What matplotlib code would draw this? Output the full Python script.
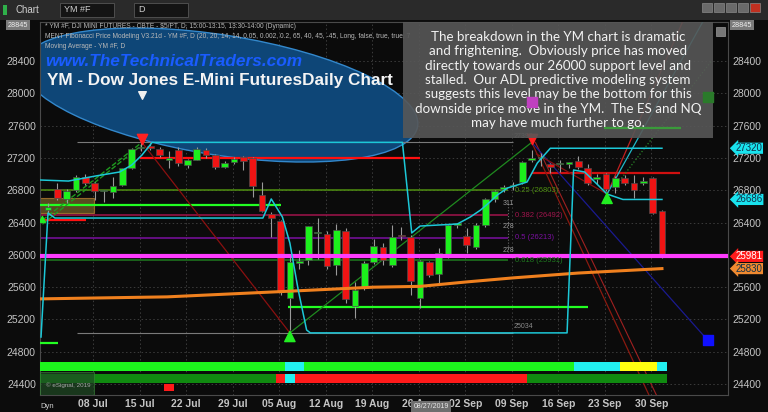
import numpy as np
import matplotlib.pyplot as plt
from matplotlib.patches import Rectangle, Ellipse
from matplotlib.transforms import Affine2D, ScaledTranslation, blended_transform_factory

plt.rcParams['font.family'] = ['Liberation Sans', 'DejaVu Sans']

# YM #F daily candles, 01 Jul .. 02 Oct 2019
opens = [26560, 26815, 26690, 26800, 26965, 26890, 26785, 26780, 26865, 27075,
         27320, 27345, 27310, 27180, 27300, 27110, 27175, 27300, 27235, 27090,
         27150, 27210, 27200, 26740, 26505, 26420, 25465, 25900, 25935, 26265,
         26260, 25875, 26295, 25365, 25590, 25910, 26097, 25875, 26245, 26220,
         25465, 25910, 25765, 25985, 26375, 26235, 26095, 26370, 26690, 26820,
         26855, 26900, 27180, 27195, 27125, 27120, 27130, 27160, 27075, 26945,
         27000, 26840, 26950, 26890, 26895, 26950, 26545]
highs = [26640, 26890, 26820, 26990, 27000, 26900, 26800, 26965, 27080, 27320,
         27400, 27390, 27330, 27280, 27330, 27190, 27330, 27320, 27250, 27160,
         27210, 27230, 27210, 26900, 26530, 26430, 25980, 26060, 26360, 26460,
         26300, 26380, 26330, 25660, 25930, 26200, 26150, 26370, 26350, 26240,
         25940, 25930, 26080, 26380, 26400, 26335, 26390, 26700, 26800, 26870,
         26900, 27160, 27300, 27260, 27140, 27170, 27150, 27230, 27130, 27000,
         27010, 26980, 26990, 26990, 26960, 26970, 26560]
lows = [26520, 26680, 26640, 26780, 26860, 26680, 26655, 26700, 26850, 27060,
        27280, 27300, 27210, 27080, 27100, 27080, 27170, 27200, 27060, 27070,
        27130, 27050, 26715, 26530, 26220, 25500, 25070, 25820, 25880, 25950,
        25820, 25750, 25400, 25220, 25560, 25890, 25880, 25850, 26190, 25505,
        25340, 25730, 25640, 25960, 26330, 26020, 26070, 26340, 26650, 26780,
        26800, 26880, 27150, 27100, 27010, 27030, 27080, 27060, 26870, 26880,
        26790, 26760, 26870, 26700, 26870, 26510, 25960]
closes = [26590, 26705, 26790, 26965, 26890, 26790, 26795, 26850, 27075, 27310,
          27335, 27320, 27235, 27200, 27140, 27175, 27310, 27235, 27090, 27140,
          27190, 27160, 26850, 26545, 26455, 25550, 25910, 25920, 26355, 26275,
          25860, 26310, 25455, 25565, 25900, 26110, 25937, 26220, 26230, 25680,
          25925, 25750, 26025, 26370, 26385, 26125, 26370, 26690, 26790, 26835,
          26870, 27150, 27195, 27205, 27090, 27130, 27140, 27090, 26890, 26955,
          26815, 26950, 26890, 26805, 26905, 26520, 25981]

date_labels = ['08 Jul', '15 Jul', '22 Jul', '29 Jul', '05 Aug', '12 Aug', '19 Aug',
               '26 Aug', '02 Sep', '09 Sep', '16 Sep', '23 Sep', '30 Sep']
date_pos = [4, 9, 14, 19, 24, 29, 34, 39, 44, 49, 54, 59, 64]
price_ticks = [24400, 24800, 25200, 25600, 26000, 26400, 26800, 27200, 27600, 28000, 28400]

# moving average
ma_x = [-0.9, 12.8, 25, 35, 40, 45, 50, 57, 66]
ma_y = [25455, 25480, 25545, 25600, 25610, 25665, 25715, 25775, 25830]

# dynamic channel (cyan)
upper_x = [-0.9, 2.2, 5.1, 7.7, 9.0, 10.1, 11.2, 38.1, 39.1, 40, 44, 45.4, 46.5,
           47.5, 48.3, 49.4, 51.5, 52.6, 54, 66]
upper_y = [26927, 26914, 26976, 27026, 27112, 27236, 27393, 27393, 26271, 26357,
           26382, 26469, 26555, 26654, 26741, 26828, 26902, 27137, 27320, 27320]
lower_x = [-0.75, 0, 0.75, 23.1, 24, 25.2, 26, 26.9, 27.8, 28.2, 55.8, 56.5, 57.7,
           60.1, 61.8, 66]
lower_y = [24983, 26518, 26456, 26456, 26692, 26469, 26147, 25565, 25070, 25034,
           25034, 27051, 27026, 26753, 26686, 26686]

# fibonacci levels
fib_prices = [26803, 26492, 26213, 25931]
fib_names = ['0.25 (26803)', '0.382 (26492)', '0.5 (26213)', '0.618 (25931)']
fib_colors = ['#4f8f10', '#a0144c', '#7a10a0', '#1f7a1f']

support = 25981
swing_high, swing_low = 27393, 25034

# bottom indicator rows (color runs per candle)
row1_runs = [('#1df51d', 26), ('#22f0f0', 2), ('#1df51d', 29), ('#22f0f0', 5),
             ('#ffff10', 4), ('#22f0f0', 1)]
row2_runs = [('#108a10', 25), ('#ff1a1a', 1), ('#22f0f0', 1), ('#ff1a1a', 25),
             ('#108a10', 15)]

tag_prices = [27320, 26686, 25981, 25830]
tag_colors = ['#19e3ee', '#19e3ee', '#ff1a1a', '#f08a30']

annotation = ["The breakdown in the YM chart is dramatic",
              "and frightening.  Obviously price has moved",
              "directly towards our 26000 support level and",
              "stalled.  Our ADL predictive modeling system",
              "suggests this level may be the bottom for this",
              "downside price move in the YM.  The ES and NQ",
              "may have much further to go."]

W, H = 768, 412
fig = plt.figure(figsize=(W / 100, H / 100), dpi=100, facecolor='#0c0c0c')
ax = fig.add_axes([40 / W, 17 / H, 688 / W, 373 / H])
ax.set_facecolor('#0b0b0b')
ax.set_xlim(-0.86, 73.1)
ax.set_ylim(24265, 28883)
for s in ax.spines.values():
    s.set_color('#4a4a4a')
    s.set_linewidth(0.8)

ax.set_yticks(price_ticks)
ax.set_yticklabels([str(p) for p in price_ticks])
ax.set_xticks([p + 0.85 for p in date_pos])
ax.set_xticklabels(date_labels, fontweight='bold')
ax.tick_params(axis='y', length=0, labelleft=True, labelright=True, colors='#c4c4c4',
               labelsize=7.5, pad=3)
ax.tick_params(axis='x', length=0, colors='#c4c4c4', labelsize=7.5, pad=3)
ax.grid(True, color='#3c3c3c', linestyle=(0, (1.5, 2.5)), linewidth=0.7, zorder=0)
ax.set_axisbelow(True)
# the right-hand 26000 label sits under the 25981 tag
ax.yaxis.get_major_ticks()[price_ticks.index(26000)].label2.set_visible(False)

# ellipse highlight (pixel sized, anchored in data space)
ell = Ellipse((0, 0), 400, 120, angle=-9, facecolor='#0e4677', edgecolor='#3388cc',
              lw=1, zorder=1,
              transform=Affine2D() + ScaledTranslation(18.5, 27979, ax.transData))
ax.add_patch(ell)

# olive box
ax.add_patch(Rectangle((-0.86, 26518), 5.76, 186, fc='#6b5a26', ec='#b07a30',
                       lw=0.8, alpha=0.8, zorder=2))

# horizontal levels
ax.hlines([swing_high, swing_low], 3.1, 50, color='#7a7a7a', lw=0.8, zorder=2)
for p, col in zip(fib_prices, fib_colors):
    ax.hlines(p, -0.86, 49.5, color=col, lw=1.1, zorder=2)
ax.hlines(27200, 9.9, 40, color='#ff1010', lw=1.6, zorder=3)
ax.hlines(26430, -0.6, 4.1, color='#ff1010', lw=1.6, zorder=3)
ax.hlines(27015, 52, 67.9, color='#d01010', lw=1.6, zorder=3)
ax.hlines(26620, -0.86, 25, color='#22ff22', lw=1.6, zorder=3)
ax.hlines(25355, 25.8, 58, color='#22ff22', lw=1.6, zorder=3)
ax.hlines(24905, -0.86, 1.1, color='#22ff22', lw=1.6, zorder=3)
ax.hlines(27570, 59.8, 68, color='#3a9a3a', lw=1.6, zorder=8)

# trend lines
ax.plot([-0.6, 10.1], [26430, 27393], color='#1f9a1f', lw=1, ls='--', zorder=3)
ax.plot([-0.6, 10.1], [26380, 27360], color='#1f9a1f', lw=1, ls='--', zorder=3)
ax.plot([10.1, 26], [27393, 25034], color='#8a1010', lw=0.9, zorder=3)
ax.plot([26, 52], [25034, 27393], color='#1f8a1f', lw=0.9, zorder=3)
ax.plot([52, 64.6], [27393, 24265], color='#8a1a10', lw=0.9, zorder=3)
ax.plot([52.4, 65.4], [27393, 24265], color='#a02020', lw=0.8, zorder=3)
ax.plot([52, 70.9], [27393, 24946], color='#1a1a90', lw=0.9, zorder=3)
ax.plot([52.5, 60.1], [27250, 26753], color='#8a1010', lw=0.9, zorder=3)
ax.plot([60.1, 68.2], [26753, 28880], color='#c02020', lw=0.9, zorder=3)
ax.plot([60.1, 70.7], [26753, 28950], color='#20b8c8', lw=0.9, zorder=3)
ax.plot([61, 71.4], [26850, 28412], color='#2a8a2a', lw=0.9, ls=':', zorder=3)
ax.vlines(49.5, 26040, 26650, color='#6a6a6a', lw=0.8, ls=':', zorder=3)

# candles
idx = np.arange(len(opens))
o = np.array(opens)
c = np.array(closes)
body_lo = np.minimum(o, c)
body_h = np.maximum(np.abs(c - o), 14)
ax.vlines(idx, lows, highs, color='#9a9a9a', lw=0.8, zorder=4)
ax.bar(idx, body_h, bottom=body_lo, width=0.72,
       color=np.where(c >= o, '#1cf01c', '#f01414'), edgecolor='#4a4a4a',
       linewidth=0.5, zorder=5)

# support, MA, channel
ax.hlines(support, -0.86, 73.1, color='#ff3cff', lw=3, zorder=6)
ax.plot(ma_x, ma_y, color='#f0801e', lw=2.2, zorder=6)
ax.plot(upper_x, upper_y, color='#1cc8d8', lw=1.1, zorder=6)
ax.plot(lower_x, lower_y, color='#1cc8d8', lw=1.1, zorder=6)

# markers
ax.scatter([10.1, 52], [27440, 27430], marker='v', s=55, color='#ff2020', zorder=7)
ax.scatter([26, 60.1, -0.6], [24990, 26700, 26440], marker='^', s=[55, 55, 18],
           color='#22ee22', zorder=7)
ax.scatter([52], [27892], marker='s', s=45, color='#c040c0', zorder=9)
ax.scatter([70.9], [27954], marker='s', s=45, color='#2a7a2a', zorder=9)
ax.scatter([70.9], [24946], marker='s', s=45, color='#1010ff', zorder=9)

# fib + swing labels
for p, name, col in zip(fib_prices, fib_names, fib_colors):
    ax.text(50.2, p, name, color=col, fontsize=5.5, va='center', zorder=6)
ax.text(50, swing_high + 30, '27393', color='#8a8a8a', fontsize=5, ha='left', va='bottom', zorder=6)
ax.text(50, swing_low + 30, '25034', color='#8a8a8a', fontsize=5, ha='left', va='bottom', zorder=6)
for y, t in zip([26630, 26345, 26060], ['311', '278', '278']):
    ax.text(49.5, y, t, color='#9a9a9a', fontsize=5, ha='center', va='center', zorder=6)

# bottom indicator rows
def draw_runs(runs, bottom, height):
    start = 0
    for col, n in runs:
        left = -0.86 if start == 0 else start - 0.5
        ax.broken_barh([(left, start + n - 0.5 - left)], (bottom, height),
                       facecolors=col, edgecolor='none', zorder=4)
        start += n

draw_runs(row1_runs, 24560, 110)
draw_runs(row2_runs, 24415, 110)
ax.bar([13], [90], bottom=24310, width=1, color='#ff1a1a', zorder=4)
ax.add_patch(Rectangle((0, 0), 54 / 688, 23 / 373, transform=ax.transAxes,
                       fc='#1f4a24', ec='#3a8a3a', lw=0.6, alpha=0.7, zorder=5))
ax.text(0.008, 10 / 373, '\u00a9 eSignal, 2019', transform=ax.transAxes,
        color='#a8a8a8', fontsize=4.5, va='center', zorder=6)

# titles
ax.text(5 / 688, 1 - 5 / 373, '* YM #F, DJI MINI FUTURES - CBTE - $5/PT, D, 15:00-13:15, 13:30-14:00 (Dynamic)',
        transform=ax.transAxes, color='#b8b8b8', fontsize=4.8, va='center', zorder=5)
ax.text(5 / 688, 1 - 15 / 373, 'MENT Fibonacci Price Modeling V3.21d - YM #F, D (20, 20, 14, 14, 0.05, 0.002, 0.2, 65, 40, 45, -45, Long, false, true, true, 7',
        transform=ax.transAxes, color='#b8b8b8', fontsize=4.8, va='center', zorder=5)
ax.text(5 / 688, 1 - 24 / 373, 'Moving Average - YM #F, D',
        transform=ax.transAxes, color='#b8b8b8', fontsize=4.8, va='center', zorder=5)
ax.text(5 / 688, 1 - 40 / 373, 'www.TheTechnicalTraders.com', transform=ax.transAxes,
        color='#1a5cff', fontsize=12.4, fontweight='bold', fontstyle='italic',
        va='center', zorder=7)
ax.text(7 / 688, 1 - 58 / 373, 'YM - Dow Jones E-Mini FuturesDaily Chart', transform=ax.transAxes,
        color='#f4f4f4', fontsize=12.3, fontweight='bold', va='center', zorder=7)
ax.scatter([10.1], [27980], marker='v', s=30, color='#f0f0f0', zorder=7)

# annotation box
ax.add_patch(Rectangle((363 / 688, 1 - 116 / 373), 310 / 688, 116 / 373,
                       transform=ax.transAxes, fc='#575757', alpha=0.9, zorder=7))
ax.add_patch(Rectangle((676 / 688, 1 - 14 / 373), 9 / 688, 9 / 373,
                       transform=ax.transAxes, fc='#777777', ec='#999999', lw=0.5, zorder=8))
for k, line in enumerate(annotation):
    ax.text(518 / 688, 1 - (15 + k * 14.33) / 373, line, transform=ax.transAxes,
            family=['Lato', 'DejaVu Sans'], color='#f2f2f2', fontsize=9.6,
            ha='center', va='center', zorder=8)

# price tags on the right
tr = blended_transform_factory(ax.transAxes, ax.transData)
for p, col in zip(tag_prices, tag_colors):
    ax.text(1.011, p, str(p), transform=tr, fontsize=7, va='center', ha='left',
            color='#ffffff' if col == '#ff1a1a' else '#10304a',
            bbox=dict(boxstyle='larrow,pad=0.06', fc=col, ec='none'),
            clip_on=False, zorder=10)
for xx in [-0.047, 1.006]:
    ax.text(xx, 28845, '28845', transform=tr, fontsize=5.2, va='center', ha='left',
            color='#f0f0f0', bbox=dict(boxstyle='square,pad=0.25', fc='#7a7a7a', ec='none'),
            clip_on=False, zorder=10)

# date cursor box
trx = blended_transform_factory(ax.transData, ax.transAxes)
ax.text(41.2, -0.03, '08/27/2019', transform=trx, fontsize=5, ha='center', va='center',
        color='#e8e8e8', bbox=dict(boxstyle='square,pad=0.3', fc='#6e6e6e', ec='none'),
        clip_on=False, zorder=10)

# toolbar and window chrome
fig.patches.append(Rectangle((0, 1 - 20 / H), 1, 20 / H, transform=fig.transFigure,
                             fc='#2a2a2a', ec='none'))
fig.patches.append(Rectangle((3 / W, 1 - 15 / H), 4 / W, 10 / H, transform=fig.transFigure,
                             fc='#2fb04a', ec='none'))
fig.text(15 / W, 1 - 10 / H, 'Chart', color='#cfcfcf', fontsize=7, va='center')
for x0, w, label in [(60, 54, 'YM #F'), (134, 54, 'D')]:
    fig.patches.append(Rectangle((x0 / W, 1 - 17 / H), w / W, 14 / H,
                                 transform=fig.transFigure, fc='#141414', ec='#555555', lw=0.6))
    fig.text((x0 + 4) / W, 1 - 10 / H, label, color='#d0d0d0', fontsize=6.5, va='center')
for k, col in enumerate(['#6a6a6a', '#6a6a6a', '#6a6a6a', '#6a6a6a', '#c03020']):
    fig.patches.append(Rectangle(((702 + k * 12) / W, 1 - 12 / H), 10 / W, 9 / H,
                                 transform=fig.transFigure, fc=col, ec='#888888', lw=0.5))
fig.text(40 / W, 1 - 407 / H, 'Dyn', color='#cfcfcf', fontsize=5.5, va='center')

fig.savefig('out.png', dpi=100, facecolor=fig.get_facecolor())
